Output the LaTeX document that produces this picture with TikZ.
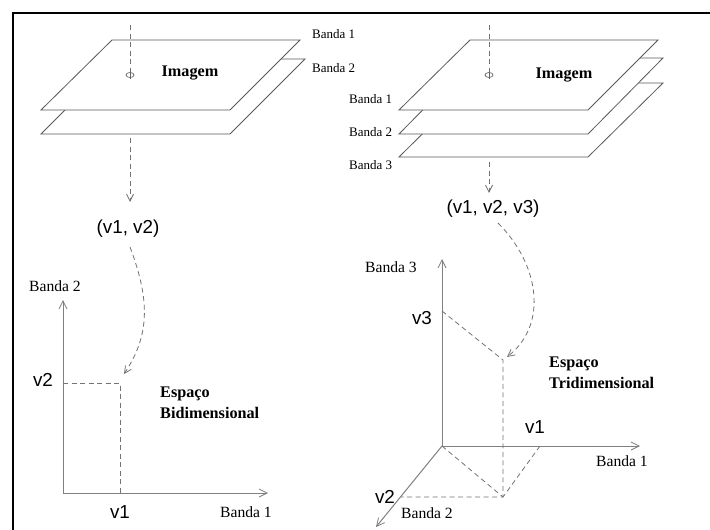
\documentclass[tikz,border=0pt]{standalone}
\usepackage{fontspec}
\setmainfont{Liberation Serif}
\newfontfamily\sansf{Liberation Sans}
\usetikzlibrary{arrows.meta}
\tikzset{
  plane/.style={draw=black!65, fill=white, line width=0.8pt, line join=miter},
  axis/.style={draw=black!50, line width=1pt, -{Straight Barb[length=8pt,width=8pt,line width=0.8pt]}},
  dsh/.style={draw=black!55, line width=0.8pt, dash pattern=on 5pt off 3.5pt},
  dsharrow/.style={dsh, -{Straight Barb[length=7pt,width=7pt,line width=0.8pt]}},
  lblsmall/.style={font=\fontsize{13}{15}\selectfont, inner sep=0pt},
  lblaxis/.style={font=\fontsize{15.6}{18}\selectfont, inner sep=0pt},
  lblbold/.style={font=\fontsize{16.2}{19}\selectfont\bfseries, inner sep=0pt},
  lblsans/.style={font=\fontsize{18.8}{22}\selectfont\sansf, inner sep=0pt},
  frame/.style={draw=black, line width=2pt}
}
\begin{document}
\begin{tikzpicture}[x=1pt,y=-1pt]
\clip (0,0) rectangle (710,530);
\fill[white] (0,0) rectangle (710,530);
\draw[frame] (13,560) -- (13,13) -- (740,13);

% ---------- left image planes ----------
\draw[plane] (41,134) -- (230,134) -- (305,59) -- (116,59) -- cycle;
\draw[plane] (41,110) -- (230,110) -- (300,40) -- (112,40) -- cycle;
\coordinate (lt) at (130,25);
\coordinate (lc) at (130,71);
\draw[dsh] (lt) -- (lc);
\draw[black!60, line width=0.7pt] (130,75) ellipse (4pt and 2.5pt);
\draw[black!60, line width=0.7pt] (130,71) -- (130,79);
\node[lblbold] (imgL) at (190,73) {Imagem};
\node[lblsmall, anchor=west] (lb1) at (312,34) {Banda 1};
\node[lblsmall, anchor=west] (lb2) at (312,68) {Banda 2};
\coordinate (lbs) at (130,138);
\coordinate (lbe) at (130,202);
\draw[dsharrow] (lbs) -- (lbe);
\node[lblsans] (vL) at (128,229) {(v1, v2)};

% ---------- left 2D space ----------
\coordinate (O2) at (63,493);
\coordinate (Y2) at (63,300);
\coordinate (X2) at (268,493);
\draw[axis] (O2) -- (Y2);
\draw[axis] (O2) -- (X2);
\coordinate (pv2) at (63,383);
\coordinate (P2) at (120,383);
\coordinate (pv1) at (120,493);
\draw[dsh] (pv2) -- (P2) -- (pv1);
\coordinate (cs) at (130,247);
\coordinate (ce) at (124,374);
\draw[dsharrow] (cs) .. controls (150,300) and (150,335) .. (ce);
\node[lblaxis] (b2L) at (55,286) {Banda 2};
\node[lblaxis] (b1L) at (246,512) {Banda 1};
\node[lblsans] (v2L) at (43,380) {v2};
\node[lblsans] (v1L) at (120,512) {v1};
\node[lblbold, anchor=west] (esL) at (160,394) {Espaço};
\node[lblbold, anchor=west] (biL) at (160,413) {Bidimensional};

% ---------- right image planes ----------
\draw[plane] (399,157) -- (588,157) -- (663,83) -- (474,83) -- cycle;
\draw[plane] (399,134) -- (588,134) -- (663,58) -- (474,58) -- cycle;
\draw[plane] (399,110) -- (588,110) -- (658,40) -- (470,40) -- cycle;
\coordinate (rt) at (489,25);
\coordinate (rc) at (489,71);
\draw[dsh] (rt) -- (rc);
\draw[black!60, line width=0.7pt] (489,75) ellipse (4pt and 2.5pt);
\draw[black!60, line width=0.7pt] (489,71) -- (489,79);
\node[lblbold] (imgR) at (564,75) {Imagem};
\node[lblsmall, anchor=west] (rb1) at (349,99) {Banda 1};
\node[lblsmall, anchor=west] (rb2) at (349,132) {Banda 2};
\node[lblsmall, anchor=west] (rb3) at (349,165) {Banda 3};
\coordinate (rbs) at (489,162);
\coordinate (rbe) at (489,193);
\draw[dsharrow] (rbs) -- (rbe);
\node[lblsans] (vR) at (493,209) {(v1, v2, v3)};

% ---------- right 3D space ----------
\coordinate (O3) at (442,446);
\coordinate (Y3) at (442,259);
\coordinate (X3) at (640,446);
\coordinate (Z3) at (376,527);
\draw[axis] (O3) -- (Y3);
\draw[axis] (O3) -- (X3);
\draw[axis] (O3) -- (Z3);
\coordinate (pv3) at (442,311);
\coordinate (P3) at (503,360);
\coordinate (Q3) at (503,497);
\coordinate (pz) at (401,497);
\coordinate (px) at (540,446);
\draw[dsh] (pv3) -- (P3) -- (Q3) -- (pz);
\draw[dsh] (O3) -- (Q3);
\draw[dsh] (px) -- (Q3);
\coordinate (cs3) at (498,223);
\coordinate (ce3) at (507,357);
\draw[dsharrow] (cs3) .. controls (540,265) and (548,325) .. (ce3);
\node[lblaxis] (b3R) at (391,267) {Banda 3};
\node[lblaxis] (b1R) at (622,461) {Banda 1};
\node[lblaxis] (b2R) at (427,513) {Banda 2};
\node[lblsans] (v3R) at (422,318) {v3};
\node[lblsans] (v1R) at (535,427) {v1};
\node[lblsans] (v2R) at (385,497) {v2};
\node[lblbold, anchor=west] (esR) at (549,364) {Espaço};
\node[lblbold, anchor=west] (trR) at (549,383) {Tridimensional};
\end{tikzpicture}
\end{document}
